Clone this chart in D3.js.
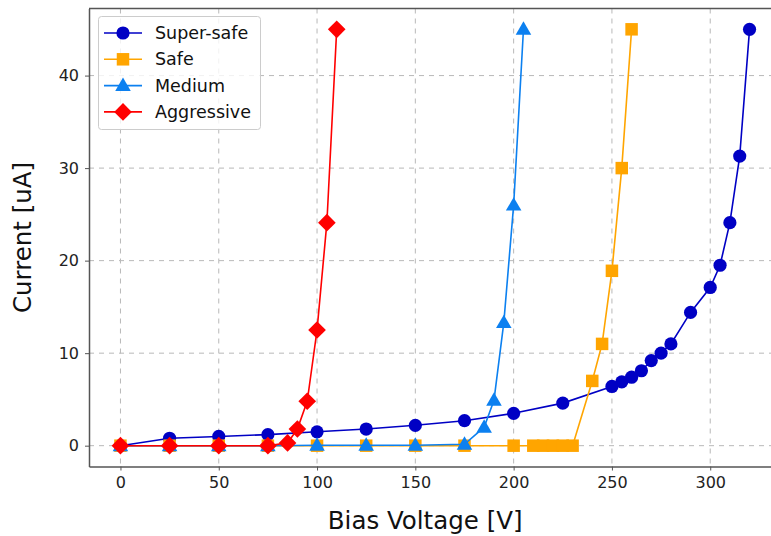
<!DOCTYPE html>
<html>
<head>
<meta charset="utf-8">
<script src="https://cdn.jsdelivr.net/npm/d3@7"></script>
<style>
  html, body { margin: 0; padding: 0; background: #fff; }
  svg { display: block; font-family: "DejaVu Sans", sans-serif; }
</style>
</head>
<body>
<svg id="chart" width="771" height="536"></svg>
<script>
// IV curves for four operating modes
const superSafeV = [0, 25, 50, 75, 100, 125, 150, 175, 200, 225, 250, 255, 260, 265, 270, 275, 280, 290, 300, 305, 310, 315, 320];
const superSafeI = [0, 0.8, 1.0, 1.2, 1.5, 1.8, 2.2, 2.7, 3.5, 4.6, 6.4, 6.9, 7.4, 8.1, 9.2, 10.0, 11.0, 14.4, 17.1, 19.5, 24.1, 31.3, 45];

const safeV = [0, 25, 50, 75, 100, 125, 150, 175, 200, 210, 215, 220, 225, 230, 240, 245, 250, 255, 260];
const safeI = [0, 0, 0, 0, 0, 0, 0, 0, 0, 0, 0, 0, 0, 0, 7.0, 11.0, 18.9, 30.0, 45];

const mediumV = [0, 25, 50, 75, 100, 125, 150, 175, 185, 190, 195, 200, 205];
const mediumI = [0, 0, 0, 0, 0.05, 0.05, 0.05, 0.15, 2.0, 4.9, 13.3, 26.0, 45];

const aggressiveV = [0, 25, 50, 75, 85, 90, 95, 100, 105, 110];
const aggressiveI = [0, 0, 0, 0, 0.3, 1.8, 4.8, 12.5, 24.1, 45];

const seriesNames = ["Super-safe", "Safe", "Medium", "Aggressive"];
const xTicks = [0, 50, 100, 150, 200, 250, 300];
const yTicks = [0, 10, 20, 30, 40];

const series = [
  { name: seriesNames[0], v: superSafeV, i: superSafeI, color: "#0000c4", marker: "circle" },
  { name: seriesNames[1], v: safeV, i: safeI, color: "#ffa500", marker: "square" },
  { name: seriesNames[2], v: mediumV, i: mediumI, color: "#0c80f0", marker: "triangle" },
  { name: seriesNames[3], v: aggressiveV, i: aggressiveI, color: "#ff0000", marker: "diamond" }
];

const svg = d3.select("#chart");
const plot = { left: 89, right: 781, top: 8.5, bottom: 466.5 };

const x = d3.scaleLinear().domain([-16, 336]).range([plot.left, plot.right]);
const y = d3.scaleLinear().domain([-2.25, 47.25]).range([plot.bottom, plot.top]);

// Grid lines
const grid = svg.append("g").attr("stroke", "#b8b8b8").attr("stroke-width", 1).attr("stroke-dasharray", "5,5");
grid.selectAll(".gx").data(xTicks).join("line")
  .attr("x1", d => x(d)).attr("x2", d => x(d))
  .attr("y1", plot.top).attr("y2", plot.bottom);
grid.selectAll(".gy").data(yTicks).join("line")
  .attr("x1", plot.left).attr("x2", plot.right)
  .attr("y1", d => y(d)).attr("y2", d => y(d));

// Axes
const xAxis = svg.append("g").attr("transform", `translate(0,${plot.bottom})`)
  .call(d3.axisBottom(x).tickValues(xTicks).tickSize(4).tickPadding(6).tickSizeOuter(0));
const yAxis = svg.append("g").attr("transform", `translate(${plot.left},0)`)
  .call(d3.axisLeft(y).tickValues(yTicks).tickSize(4).tickPadding(6).tickSizeOuter(0));
[xAxis, yAxis].forEach(a => {
  a.selectAll("text").attr("font-size", 16).attr("fill", "#222").attr("font-family", "DejaVu Sans, sans-serif");
  a.selectAll("line").attr("stroke", "#555");
  a.select(".domain").attr("stroke", "#555").attr("stroke-width", 1.5);
});

// Top spine
svg.append("line").attr("x1", plot.left).attr("x2", plot.right)
  .attr("y1", plot.top).attr("y2", plot.top).attr("stroke", "#555").attr("stroke-width", 1.5);

// Axis titles
svg.append("text").attr("x", x(155)).attr("y", 529).attr("text-anchor", "middle")
  .attr("font-size", 24.5).attr("fill", "#111").text("Bias Voltage [V]");
svg.append("text").attr("transform", `translate(31,${y(22.5)}) rotate(-90)`).attr("text-anchor", "middle")
  .attr("font-size", 24.5).attr("fill", "#111").text("Current [uA]");

const symbolFor = {
  circle: d3.symbol().type(d3.symbolCircle).size(Math.PI * 6.6 * 6.6),
  square: d3.symbol().type(d3.symbolSquare).size(12.5 * 12.5),
  triangle: d3.symbol().type(d3.symbolTriangle).size(105),
  diamond: d3.symbol().type(d3.symbolSquare).size(12.5 * 12.5)
};
const markerTransform = (m, px, py) =>
  m === "diamond" ? `translate(${px},${py}) rotate(45)` :
  m === "triangle" ? `translate(${px},${py + 1})` : `translate(${px},${py})`;

const plotArea = svg.append("g");
const line = d3.line();
series.forEach(s => {
  const pts = s.v.map((v, k) => [x(v), y(s.i[k])]);
  const g = plotArea.append("g");
  g.append("path").attr("d", line(pts)).attr("fill", "none")
    .attr("stroke", s.color).attr("stroke-width", 1.6);
  g.selectAll("path.mk").data(pts).join("path").attr("class", "mk")
    .attr("d", symbolFor[s.marker]())
    .attr("transform", p => markerTransform(s.marker, p[0], p[1]))
    .attr("fill", s.color);
});

// Legend
const lg = svg.append("g");
lg.append("rect").attr("x", 98.5).attr("y", 16.5).attr("width", 162).attr("height", 113)
  .attr("rx", 3).attr("fill", "rgba(255,255,255,0.8)").attr("stroke", "#cccccc");
series.forEach((s, k) => {
  const cy = 33 + k * 26.3;
  lg.append("line").attr("x1", 104).attr("x2", 142).attr("y1", cy).attr("y2", cy)
    .attr("stroke", s.color).attr("stroke-width", 1.6);
  lg.append("path").attr("d", symbolFor[s.marker]())
    .attr("transform", markerTransform(s.marker, 123, cy)).attr("fill", s.color);
  lg.append("text").attr("x", 155).attr("y", cy + 6).attr("font-size", 17.5)
    .attr("fill", "#111").text(s.name);
});
</script>
</body>
</html>
